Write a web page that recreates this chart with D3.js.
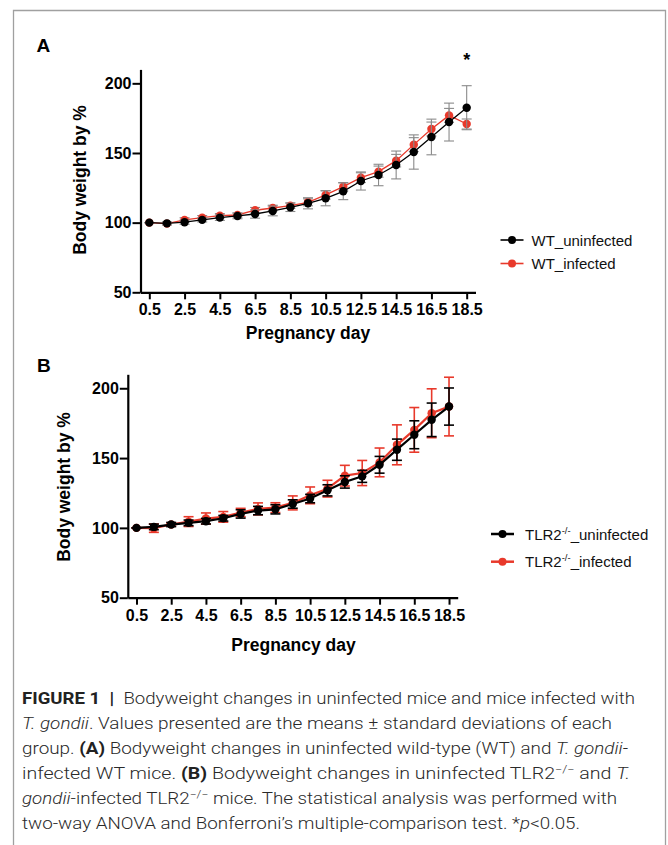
<!DOCTYPE html>
<html>
<head>
<meta charset="utf-8">
<script src="https://cdn.jsdelivr.net/npm/d3@7"></script>
<style>
  body { margin: 0; background: #fff; }
  svg { display: block; }
</style>
</head>
<body>
<div id="chart"></div>
<script>
// pregnancy days (x categories)
var days = [0.5, 1.5, 2.5, 3.5, 4.5, 5.5, 6.5, 7.5, 8.5, 9.5, 10.5, 11.5, 12.5, 13.5, 14.5, 15.5, 16.5, 17.5, 18.5];
var xTicks = [0.5, 2.5, 4.5, 6.5, 8.5, 10.5, 12.5, 14.5, 16.5, 18.5];
var yTicks = [50, 100, 150, 200];

// panel A, wild type
var wtUninfected   = [100, 99.5, 100.3, 102, 103.6, 104.8, 106.2, 108.4, 111, 113.9, 117.5, 122.5, 129.9, 134.2, 141.4, 150.7, 161.5, 172.2, 182.5];
var wtUninfectedSD = [0, 1, 1.5, 1.5, 2, 2, 3, 3.5, 3, 4, 5.4, 6, 6.5, 7.7, 10, 12.3, 12.8, 13.6, 15.8];
var wtInfected     = [100, 99.3, 102, 103.6, 105, 105.5, 108.9, 110.5, 112.2, 114.6, 119.9, 125.8, 132.3, 136.6, 144.5, 156, 167.2, 177, 170.8];
var wtInfectedSD   = [0, 1, 1.5, 1.5, 1.5, 1.5, 2, 2, 2, 2.5, 3, 3, 3.5, 4, 4.5, 5, 5, 5, 3.6];

// panel B, TLR2 knockout
var tlrUninfected   = [100, 100.7, 102.4, 103.6, 104.8, 106.9, 110, 112.4, 113.3, 117.1, 121, 126.9, 132.9, 136.9, 145.2, 156, 166.7, 177.4, 186.9];
var tlrUninfectedSD = [0, 2, 1.5, 2, 2, 2, 3, 3, 3.3, 3, 3, 4, 4.4, 4.3, 6, 7.6, 10, 12, 13.3];
var tlrInfected     = [100, 99.8, 102.4, 104.5, 106.7, 107.9, 111, 113.6, 114.5, 117.9, 123.3, 128.1, 137.4, 139.3, 146.9, 159.5, 170.2, 182.1, 186.9];
var tlrInfectedSD   = [0, 3, 1, 3.5, 4, 3.8, 3, 4.3, 3.5, 5, 6, 6, 7.4, 9, 10.3, 14.3, 16, 17.5, 21];

var red = "#e8392b";
var w = 668, h = 845;
var font = "'Liberation Sans', Arial, Helvetica, sans-serif";

var svg = d3.select("#chart").append("svg")
    .attr("width", w)
    .attr("height", h);

// figure frame (open at the bottom)
svg.append("path")
    .attr("d", "M13.5,845 V10.5 H665.5 V845")
    .attr("fill", "none")
    .attr("stroke", "#a0a0a0")
    .attr("stroke-width", 1.3);

function makeSeries(vals, sds){
    return days.map(function(d, i){ return {day: d, v: vals[i], sd: sds[i]}; });
}

function drawPanel(opt){
    var g = svg.append("g");
    var x = d3.scaleLinear().domain([0, 19]).range(opt.xr);
    var y = d3.scaleLinear().domain([50, 210]).range(opt.yr);

    // axes
    var xAxis = g.append("g")
        .attr("transform", "translate(0," + opt.yr[0] + ")")
        .call(d3.axisBottom(x).tickValues(xTicks).tickSize(7).tickSizeOuter(0).tickPadding(8).tickFormat(d3.format(".1f")));
    var yAxis = g.append("g")
        .attr("transform", "translate(" + opt.xr[0] + ",0)")
        .call(d3.axisLeft(y).tickValues(yTicks).tickSize(8).tickSizeOuter(0).tickPadding(1));
    [xAxis, yAxis].forEach(function(a){
        a.select(".domain").attr("stroke", "#000").attr("stroke-width", 2.2);
        a.selectAll(".tick line").attr("stroke", "#000").attr("stroke-width", 2);
        a.selectAll("text")
            .attr("fill", "#000")
            .style("font-family", font)
            .style("font-weight", "bold")
            .style("font-size", "16px");
    });
    xAxis.selectAll("text").attr("dy", null).attr("y", 23);

    // series: red first, black on top
    opt.series.forEach(function(s){
        var data = makeSeries(s.vals, s.sds);
        var sg = g.append("g");
        var eb = sg.selectAll(".eb").data(data).enter().append("g")
            .attr("stroke", s.errColor)
            .attr("stroke-width", opt.errWidth);
        eb.append("line")
            .attr("x1", function(d){ return x(d.day); })
            .attr("x2", function(d){ return x(d.day); })
            .attr("y1", function(d){ return y(d.v - d.sd); })
            .attr("y2", function(d){ return y(d.v + d.sd); });
        eb.append("line")
            .attr("x1", function(d){ return x(d.day) - 5; })
            .attr("x2", function(d){ return x(d.day) + 5; })
            .attr("y1", function(d){ return y(d.v + d.sd); })
            .attr("y2", function(d){ return y(d.v + d.sd); });
        eb.append("line")
            .attr("x1", function(d){ return x(d.day) - 5; })
            .attr("x2", function(d){ return x(d.day) + 5; })
            .attr("y1", function(d){ return y(d.v - d.sd); })
            .attr("y2", function(d){ return y(d.v - d.sd); });

        sg.append("path")
            .datum(data)
            .attr("fill", "none")
            .attr("stroke", s.color)
            .attr("stroke-width", opt.lineWidth)
            .attr("d", d3.line().x(function(d){ return x(d.day); }).y(function(d){ return y(d.v); }));

        sg.selectAll("circle").data(data).enter().append("circle")
            .attr("cx", function(d){ return x(d.day); })
            .attr("cy", function(d){ return y(d.v); })
            .attr("r", 4.2)
            .attr("fill", s.color);
    });

    // axis titles
    g.append("text")
        .attr("x", opt.xTitle[0])
        .attr("y", opt.xTitle[1])
        .attr("text-anchor", "middle")
        .style("font-family", font)
        .style("font-weight", "bold")
        .style("font-size", "17.5px")
        .text("Pregnancy day");
    g.append("text")
        .attr("transform", "translate(" + opt.yTitle[0] + "," + opt.yTitle[1] + ") rotate(-90)")
        .attr("text-anchor", "middle")
        .style("font-family", font)
        .style("font-weight", "bold")
        .style("font-size", "17.5px")
        .text("Body weight by %");

    // panel letter
    g.append("text")
        .attr("x", opt.letter[0])
        .attr("y", opt.letter[1])
        .style("font-family", font)
        .style("font-weight", "bold")
        .style("font-size", "19px")
        .text(opt.name);

    // legend
    opt.series.slice().reverse().forEach(function(s, i){
        var ly = opt.legend.y[i];
        var lg = g.append("g");
        lg.append("line")
            .attr("x1", opt.legend.x0).attr("x2", opt.legend.x0 + 23)
            .attr("y1", ly).attr("y2", ly)
            .attr("stroke", s.color).attr("stroke-width", opt.lineWidth + 0.3);
        lg.append("circle")
            .attr("cx", opt.legend.x0 + 11.5).attr("cy", ly).attr("r", 4)
            .attr("fill", s.color);
        var t = lg.append("text")
            .attr("x", opt.legend.tx)
            .attr("y", ly + 5.5)
            .style("font-family", font)
            .style("font-size", "15px")
            .attr("fill", "#111");
        s.label.forEach(function(p){
            var ts = t.append("tspan").text(p.t);
            if (p.sup) ts.attr("dy", -6).style("font-size", "9.5px");
            if (p.after) ts.attr("dy", 6);
        });
    });

    return {x: x, y: y, g: g};
}

var A = drawPanel({
    name: "A",
    xr: [140.5, 475.5],
    yr: [292.3, 69.4],
    lineWidth: 1.3,
    errWidth: 1.1,
    xTitle: [308, 339],
    yTitle: [86, 180],
    letter: [36.5, 52],
    legend: {x0: 500.5, tx: 531.5, y: [240, 263.5]},
    series: [
        {vals: wtInfected, sds: wtInfectedSD, color: red, errColor: "#8a8a8a",
         label: [{t: "WT_infected"}]},
        {vals: wtUninfected, sds: wtUninfectedSD, color: "#000", errColor: "#8a8a8a",
         label: [{t: "WT_uninfected"}]}
    ]
});

// significance mark at day 18.5
A.g.append("text")
    .attr("x", A.x(18.5))
    .attr("y", 66)
    .attr("text-anchor", "middle")
    .style("font-family", font)
    .style("font-weight", "bold")
    .style("font-size", "18px")
    .text("*");

drawPanel({
    name: "B",
    xr: [127.8, 457.7],
    yr: [597.7, 374.3],
    lineWidth: 2.2,
    errWidth: 1.6,
    xTitle: [293.5, 651],
    yTitle: [69.5, 487],
    letter: [37, 372],
    legend: {x0: 491, tx: 525, y: [534, 561.7]},
    series: [
        {vals: tlrInfected, sds: tlrInfectedSD, color: red, errColor: red,
         label: [{t: "TLR2"}, {t: "-/-", sup: true}, {t: "_infected", after: true}]},
        {vals: tlrUninfected, sds: tlrUninfectedSD, color: "#000", errColor: "#000",
         label: [{t: "TLR2"}, {t: "-/-", sup: true}, {t: "_uninfected", after: true}]}
    ]
});

// caption
var capLines = [
    {w: 613, parts: [{t: "FIGURE 1", b: 1}, {t: "  |  ", b: 1}, {t: "Bodyweight changes in uninfected mice and mice infected with"}]},
    {w: 590, parts: [{t: "T. gondii", i: 1}, {t: ". Values presented are the means \u00b1 standard deviations of each"}]},
    {w: 606, parts: [{t: "group. "}, {t: "(A)", b: 1}, {t: " Bodyweight changes in uninfected wild-type (WT) and "}, {t: "T. gondii-", i: 1}]},
    {w: 608, parts: [{t: "infected WT mice. "}, {t: "(B)", b: 1}, {t: " Bodyweight changes in uninfected TLR2"}, {t: "\u2212/\u2212", sup: 1}, {t: " and ", after: 1}, {t: "T.", i: 1}]},
    {w: 595, parts: [{t: "gondii", i: 1}, {t: "-infected TLR2"}, {t: "\u2212/\u2212", sup: 1}, {t: " mice. The statistical analysis was performed with", after: 1}]},
    {w: 558, parts: [{t: "two-way ANOVA and Bonferroni\u2019s multiple-comparison test. *"}, {t: "p", i: 1}, {t: "<0.05."}]}
];

capLines.forEach(function(line, i){
    var t = svg.append("text")
        .attr("x", 22)
        .attr("y", 704 + i * 25)
        .style("font-family", "Roboto, 'Liberation Sans', sans-serif")
        .style("font-weight", 300)
        .style("font-size", "17px")
        .attr("fill", "#2a2a2a")
        .attr("textLength", line.w)
        .attr("lengthAdjust", "spacingAndGlyphs");
    line.parts.forEach(function(p){
        var ts = t.append("tspan").text(p.t).attr("xml:space", "preserve");
        if (p.b) ts.style("font-weight", "bold").attr("fill", "#222");
        if (p.i) ts.style("font-style", "italic");
        if (p.sup) ts.attr("dy", -6).style("font-size", "11px");
        if (p.after) ts.attr("dy", 6);
    });
});
</script>
</body>
</html>
